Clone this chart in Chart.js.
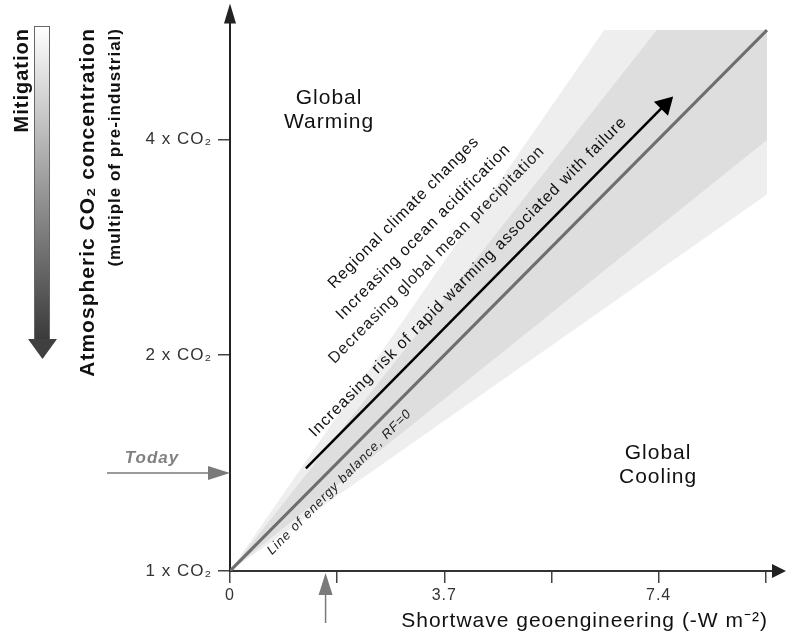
<!DOCTYPE html>
<html>
<head>
<meta charset="utf-8">
<title>Shortwave geoengineering vs CO2</title>
<script src="https://cdn.jsdelivr.net/npm/chart.js@4.4.1/dist/chart.umd.min.js"></script>
<style>
  html, body { margin: 0; padding: 0; background: #fff; }
  #wrap { width: 786px; height: 638px; }
</style>
</head>
<body>
<div id="wrap"><canvas id="chart" width="786" height="638"></canvas></div>
<script>
// x: shortwave geoengineering (W m-2), y: CO2 as a multiple of pre-industrial
const xTicks = [0, 1.85, 3.7, 5.55, 7.4, 9.25];
const xTickLabels = ['0', '', '3.7', '', '7.4', ''];
const yTicks = [1, 2, 4];
const yTickLabels = ['1 x CO₂', '2 x CO₂', '4 x CO₂'];

// line of energy balance (RF = 0)
const balanceX = [0, 9.27];
const balanceCO2 = [1, 5.68];

// darker uncertainty band
const darkUpperX = [0, 7.37, 9.27];
const darkUpperCO2 = [1, 5.68, 5.68];
const darkLowerX = [0, 9.27];
const darkLowerCO2 = [1, 3.99];

// lighter uncertainty band
const lightUpperX = [0, 6.46, 9.27];
const lightUpperCO2 = [1, 5.68, 5.68];
const lightLowerX = [0, 9.27];
const lightLowerCO2 = [1, 3.35];

// black "increasing risk" arrow
const riskArrowX = [1.31, 7.51];
const riskArrowCO2 = [1.39, 4.47];

// present day markers
const todayCO2 = 1.37;
const todayForcing = 1.65;

const FONT = "'Liberation Sans', Arial, sans-serif";

const pts = (xs, ys) => xs.map((x, i) => ({ x: x, y: ys[i] }));

function drawText(ctx, text, x, y, font, color, angle, align) {
    ctx.save();
    ctx.translate(x, y);
    ctx.rotate((angle || 0) * Math.PI / 180);
    ctx.font = font;
    ctx.letterSpacing = '1px';
    ctx.fillStyle = color;
    ctx.textAlign = align || 'center';
    ctx.textBaseline = 'middle';
    ctx.fillText(text, 0, 0);
    ctx.restore();
}

function triangle(ctx, p1, p2, p3, color) {
    ctx.beginPath();
    ctx.moveTo(p1[0], p1[1]);
    ctx.lineTo(p2[0], p2[1]);
    ctx.lineTo(p3[0], p3[1]);
    ctx.closePath();
    ctx.fillStyle = color;
    ctx.fill();
}

const annotations = {
    id: 'annotations',
    beforeDraw(chart) {
        chart.ctx.letterSpacing = '1px';
    },
    afterDraw(chart) {
        const ctx = chart.ctx;
        const sx = chart.scales.x;
        const sy = chart.scales.y;
        const area = chart.chartArea;
        const px = v => sx.getPixelForValue(v);
        const py = v => sy.getPixelForValue(v);

        // axis arrowheads
        triangle(ctx, [area.left, area.top - 8], [area.left - 6, area.top + 12], [area.left + 6, area.top + 12], '#222');
        triangle(ctx, [786, area.bottom], [772, area.bottom - 7], [772, area.bottom + 7], '#222');

        // "Today" arrows
        const ty = py(todayCO2);
        ctx.save();
        ctx.strokeStyle = '#7a7a7a';
        ctx.lineWidth = 1.5;
        ctx.beginPath();
        ctx.moveTo(107, ty);
        ctx.lineTo(area.left - 20, ty);
        ctx.stroke();
        triangle(ctx, [area.left, ty], [area.left - 22, ty - 7], [area.left - 22, ty + 7], '#7a7a7a');
        drawText(ctx, 'Today', 152, ty - 15, 'italic bold 17px ' + FONT, '#808080');

        const tx = px(todayForcing);
        ctx.beginPath();
        ctx.moveTo(tx, 623);
        ctx.lineTo(tx, area.bottom + 22);
        ctx.stroke();
        triangle(ctx, [tx, area.bottom + 2], [tx - 7, area.bottom + 24], [tx + 7, area.bottom + 24], '#7a7a7a');
        ctx.restore();

        // mitigation gradient arrow
        const grad = ctx.createLinearGradient(0, 26, 0, 340);
        grad.addColorStop(0, '#ffffff');
        grad.addColorStop(1, '#3a3a3a');
        ctx.save();
        ctx.fillStyle = grad;
        ctx.fillRect(34, 26, 16, 314);
        ctx.strokeStyle = '#666';
        ctx.lineWidth = 1;
        ctx.strokeRect(34.5, 26.5, 15, 313);
        triangle(ctx, [28, 339], [57, 339], [42.5, 359], '#404040');
        ctx.restore();

        // left titles
        drawText(ctx, 'Mitigation', 22, 28, 'bold 20px ' + FONT, '#111', -90, 'right');
        drawText(ctx, 'Atmospheric CO₂ concentration', 88, 28, 'bold 21px ' + FONT, '#111', -90, 'right');
        drawText(ctx, '(multiple of pre-industrial)', 115, 28, 'bold 17px ' + FONT, '#111', -90, 'right');

        // bottom title
        drawText(ctx, 'Shortwave geoengineering (-W m⁻²)', 768, 621, '21px ' + FONT, '#111', 0, 'right');

        // region labels
        drawText(ctx, 'Global', px(1.71), py(4.56), '21px ' + FONT, '#111');
        drawText(ctx, 'Warming', px(1.71), py(4.56) + 24, '21px ' + FONT, '#111');
        drawText(ctx, 'Global', px(7.39), py(1.46), '21px ' + FONT, '#111');
        drawText(ctx, 'Cooling', px(7.39), py(1.46) + 24, '21px ' + FONT, '#111');

        // labels along the balance line
        const ang = Math.atan2(py(balanceCO2[1]) - py(balanceCO2[0]), px(balanceX[1]) - px(balanceX[0])) * 180 / Math.PI;
        drawText(ctx, 'Regional climate changes', px(3.00), py(3.16), '16px ' + FONT, '#111', ang);
        drawText(ctx, 'Increasing ocean acidification', px(3.34), py(2.97), '16px ' + FONT, '#111', ang);
        drawText(ctx, 'Decreasing global mean precipitation', px(3.57), py(2.76), '16px ' + FONT, '#222', ang);
        drawText(ctx, 'Increasing risk of rapid warming associated with failure', px(4.11), py(2.57), '16px ' + FONT, '#111', ang);
        drawText(ctx, 'Line of energy balance, RF=0', px(1.89), py(1.33), 'italic 13px ' + FONT, '#222', ang);
    }
};

const tickFont = { family: FONT, size: 16 };

new Chart(document.getElementById('chart'), {
    type: 'line',
    data: {
        datasets: [
            {
                data: pts(riskArrowX, riskArrowCO2),
                borderColor: '#000',
                borderWidth: 2.5,
                pointRadius: [0, 9],
                pointStyle: 'triangle',
                rotation: 45,
                pointBackgroundColor: '#000',
                pointBorderColor: '#000',
                fill: false
            },
            {
                data: pts(balanceX, balanceCO2),
                borderColor: '#6e6e6e',
                borderWidth: 3,
                fill: false
            },
            {
                data: pts(darkUpperX, darkUpperCO2),
                borderColor: 'rgba(0,0,0,0)',
                backgroundColor: '#dedede',
                fill: '+1'
            },
            {
                data: pts(darkLowerX, darkLowerCO2),
                borderColor: 'rgba(0,0,0,0)',
                fill: false
            },
            {
                data: pts(lightUpperX, lightUpperCO2),
                borderColor: 'rgba(0,0,0,0)',
                backgroundColor: '#eeeeee',
                fill: '+1'
            },
            {
                data: pts(lightLowerX, lightLowerCO2),
                borderColor: 'rgba(0,0,0,0)',
                fill: false
            }
        ]
    },
    options: {
        responsive: false,
        animation: false,
        layout: { padding: { top: 10, right: 5, left: 0, bottom: 0 } },
        elements: { point: { radius: 0 }, line: { tension: 0 } },
        plugins: { legend: { display: false }, tooltip: { enabled: false } },
        scales: {
            x: {
                type: 'linear',
                min: 0,
                max: 9.4,
                afterFit: s => { s.height = 67; s.paddingLeft = 0; s.paddingRight = 0; },
                afterBuildTicks: s => { s.ticks = xTicks.map(v => ({ value: v })); },
                ticks: {
                    callback: (v, i) => xTickLabels[i],
                    font: tickFont,
                    color: '#333',
                    padding: 3,
                    maxRotation: 0,
                    autoSkip: false
                },
                grid: { drawOnChartArea: false, drawTicks: true, tickLength: 12, color: '#444', lineWidth: 1.5 },
                border: { color: '#333', width: 2 }
            },
            y: {
                type: 'logarithmic',
                min: 1,
                max: 6.03,
                afterFit: s => { s.width = 230; s.paddingTop = 0; s.paddingBottom = 0; },
                afterBuildTicks: s => { s.ticks = yTicks.map(v => ({ value: v })); },
                ticks: {
                    callback: (v, i) => yTickLabels[i],
                    font: { family: FONT, size: 17 },
                    color: '#333',
                    padding: 6,
                    autoSkip: false
                },
                grid: { drawOnChartArea: false, drawTicks: true, tickLength: 12, color: '#444', lineWidth: 1.5 },
                border: { color: '#222', width: 2 }
            }
        }
    },
    plugins: [annotations]
});
</script>
</body>
</html>
